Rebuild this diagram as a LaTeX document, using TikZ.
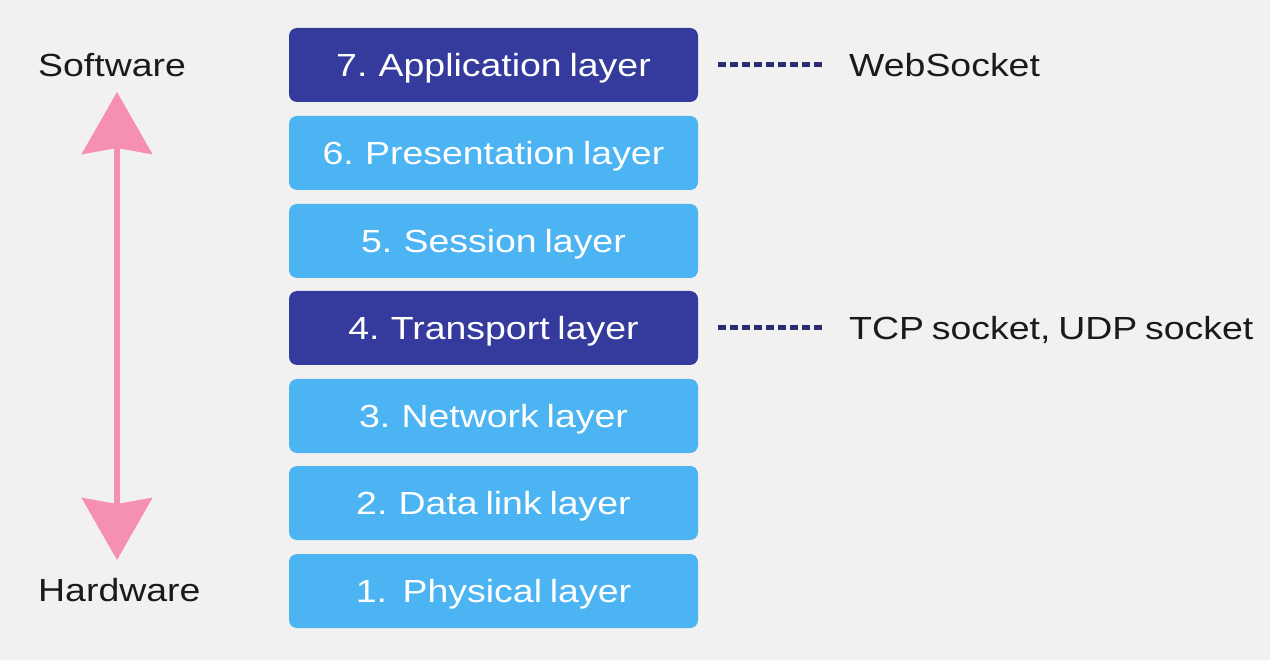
\documentclass[tikz,border=0pt]{standalone}
\usepackage{fontspec}
\setmainfont[FakeStretch=1.17,WordSpace=0.75]{Liberation Sans}
\usetikzlibrary{arrows.meta,calc}
\definecolor{navy}{HTML}{353B9C}
\definecolor{dashnavy}{HTML}{2B2D70}
\definecolor{sky}{HTML}{4CB4F3}
\definecolor{pinkarrow}{HTML}{F590B4}
\definecolor{bg}{HTML}{F1F1F1}
\definecolor{ink}{HTML}{1A1A1A}
\begin{document}
\begin{tikzpicture}[x=1pt,y=-1pt,
  layerbox/.style={rounded corners=8pt, minimum width=409pt, minimum height=74pt,
    inner sep=0pt, text=white, font=\fontsize{32}{38}\selectfont,
    text height=23pt, text depth=0pt},
  darkbox/.style={layerbox, fill=navy},
  lightbox/.style={layerbox, fill=sky},
  sidelabel/.style={inner sep=0pt, text=ink, font=\fontsize{32}{38}\selectfont,
    text height=23pt, text depth=0pt},
  dashline/.style={dashnavy, line width=5pt, dash pattern=on 8pt off 4pt},
  bigarrow/.style={pinkarrow, line width=6pt,
    {Stealth[width=70pt,length=62pt,inset=6pt]}-{Stealth[width=70pt,length=62pt,inset=6pt]}}
]
\fill[bg] (0,0) rectangle (1270,660);
\useasboundingbox (0,0) rectangle (1270,660);

\node[darkbox]  (L7) at (493.5,65)  {7. Application layer};
\node[lightbox] (L6) at (493.5,153) {6. Presentation layer};
\node[lightbox] (L5) at (493.5,241) {5. Session layer};
\node[darkbox]  (L4) at (493.5,328) {4. Transport layer};
\node[lightbox] (L3) at (493.5,416) {3. Network layer};
\node[lightbox] (L2) at (493.5,503) {2. Data link layer};
\node[lightbox] (L1) at (493.5,591) {1.\ \ Physical layer};

\node[sidelabel, anchor=west] (sw) at (38,65) {Software};
\node[sidelabel, anchor=west] (hw) at (38,590) {Hardware};

\node[sidelabel, anchor=west] (ws) at (849,65) {WebSocket};
\node[sidelabel, anchor=west] (tcp) at (849,328) {TCP socket, UDP socket};

\draw[dashline] ($(L7.east)+(20,0)$) -- ($(ws.west)+(-23,0)$);
\draw[dashline] ($(L4.east)+(20,0)$) -- ($(tcp.west)+(-23,0)$);

\coordinate (atop) at (117,92);
\coordinate (abot) at (117,560);
\draw[bigarrow] (atop) -- (abot);
\end{tikzpicture}
\end{document}
